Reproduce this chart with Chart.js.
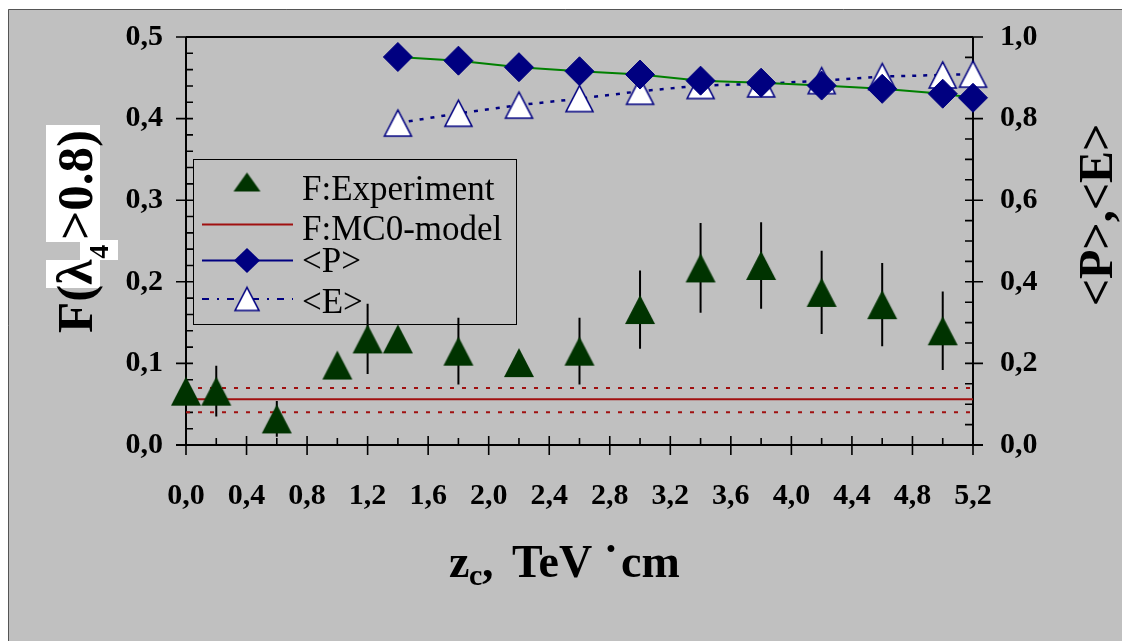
<!DOCTYPE html>
<html>
<head>
<meta charset="utf-8">
<script src="https://cdn.jsdelivr.net/npm/chart.js@4.4.1/dist/chart.umd.min.js"></script>
<style>
  html, body { margin: 0; padding: 0; background: #ffffff; }
  canvas { display: block; }
</style>
</head>
<body>
<canvas id="c" width="1122" height="641"></canvas>
<script>
// Measured fraction F(λ4>0.8) versus z_c
const expZ   = [0.0, 0.2, 0.6, 1.0, 1.2, 1.4, 1.8, 2.2, 2.6, 3.0, 3.4, 3.8, 4.2, 4.6, 5.0];
const expF   = [0.066, 0.066, 0.032, 0.098, 0.130, 0.130, 0.115, 0.101, 0.115, 0.166, 0.217, 0.220, 0.187, 0.172, 0.140];
const expErr = [null, 0.031, 0.022, null, 0.043, null, 0.041, null, 0.041, 0.048, 0.055, 0.053, 0.051, 0.051, 0.048];

// MC0 model level with its band
const modelF    = 0.056;
const modelLow  = 0.040;
const modelHigh = 0.070;

// Mean values <P> and <E> (right axis)
const meanZ = [1.4, 1.8, 2.2, 2.6, 3.0, 3.4, 3.8, 4.2, 4.6, 5.0, 5.2];
const meanP = [0.951, 0.942, 0.926, 0.916, 0.908, 0.893, 0.888, 0.881, 0.873, 0.861, 0.851];
const meanE = [0.789, 0.813, 0.833, 0.849, 0.867, 0.881, 0.885, 0.893, 0.903, 0.907, 0.909];

// Axis ticks
const xTickValues  = [0, 0.4, 0.8, 1.2, 1.6, 2.0, 2.4, 2.8, 3.2, 3.6, 4.0, 4.4, 4.8, 5.2];
const xTickLabels  = ['0,0','0,4','0,8','1,2','1,6','2,0','2,4','2,8','3,2','3,6','4,0','4,4','4,8','5,2'];
const yTickValues  = [0, 0.1, 0.2, 0.3, 0.4, 0.5];
const yTickLabels  = ['0,0','0,1','0,2','0,3','0,4','0,5'];
const y2TickValues = [0, 0.2, 0.4, 0.6, 0.8, 1.0];
const y2TickLabels = ['0,0','0,2','0,4','0,6','0,8','1,0'];

const SERIF = '"Liberation Serif", "Times New Roman", serif';
const GREEN_DARK = '#003300';
const NAVY = '#000080';
const MODEL_RED = '#a01010';

// Triangle marker centred in its own bounding box
function triangleMarker(w, h, fill, stroke, lw) {
  const pad = Math.ceil(lw) + 1;
  const c = document.createElement('canvas');
  c.width = Math.round(w + pad * 2);
  c.height = Math.round(h + pad * 2);
  const g = c.getContext('2d');
  g.beginPath();
  g.moveTo(pad, pad + h);
  g.lineTo(pad + w / 2, pad);
  g.lineTo(pad + w, pad + h);
  g.closePath();
  g.fillStyle = fill;
  g.fill();
  if (stroke) { g.lineWidth = lw; g.strokeStyle = stroke; g.lineJoin = 'miter'; g.stroke(); }
  return c;
}

const expMarker = triangleMarker(30, 29, GREEN_DARK, null, 0);
const eMarker = triangleMarker(27, 26, '#ffffff', NAVY, 1.6);

function xy(xs, ys) { return xs.map((x, i) => ({ x: x, y: ys[i] })); }
function flat(v) { return [{ x: xTickValues[0], y: v }, { x: xTickValues[xTickValues.length - 1], y: v }]; }

// Scales keep a fixed footprint so the plot area sits where the frame expects it
function fixSize(prop, size) {
  return s => {
    s[prop] = size;
    s.paddingTop = 0; s.paddingBottom = 0; s.paddingLeft = 0; s.paddingRight = 0;
  };
}

// Frame, axes, ticks and error bars
const framePlugin = {
  id: 'frame',
  beforeDraw(chart) {
    const ctx = chart.ctx;
    ctx.save();
    ctx.fillStyle = '#ffffff';
    ctx.fillRect(0, 0, chart.width, chart.height);
    ctx.fillStyle = '#c0c0c0';
    ctx.fillRect(8, 9, chart.width - 8, chart.height - 9);
    ctx.strokeStyle = '#555555';
    ctx.lineWidth = 1;
    ctx.beginPath();
    ctx.moveTo(8.5, chart.height);
    ctx.lineTo(8.5, 9.5);
    ctx.lineTo(chart.width, 9.5);
    ctx.stroke();
    ctx.restore();
  },
  beforeDatasetsDraw(chart) {
    const ctx = chart.ctx;
    const a = chart.chartArea;
    const sx = chart.scales.x, sy = chart.scales.y, sy2 = chart.scales.y2;
    ctx.save();
    ctx.strokeStyle = '#000000';
    // plot frame: top border and the three axes
    ctx.lineWidth = 2;
    ctx.beginPath();
    ctx.moveTo(a.left, a.top); ctx.lineTo(a.right, a.top);
    ctx.moveTo(a.left, a.top); ctx.lineTo(a.left, a.bottom);
    ctx.moveTo(a.right, a.top); ctx.lineTo(a.right, a.bottom);
    ctx.moveTo(a.left - 10, a.bottom); ctx.lineTo(a.right + 10, a.bottom);
    ctx.stroke();
    ctx.lineWidth = 1.6;
    ctx.beginPath();
    // x ticks: majors cross the axis, minors inside
    for (let i = 0; i <= 26; i++) {
      const px = sx.getPixelForValue(i * 0.2);
      if (i % 2 === 0) { ctx.moveTo(px, a.bottom - 9); ctx.lineTo(px, a.bottom + 10); }
      else { ctx.moveTo(px, a.bottom - 7); ctx.lineTo(px, a.bottom); }
    }
    // left y ticks
    for (let i = 0; i <= 25; i++) {
      const py = sy.getPixelForValue(i * 0.02);
      if (i % 5 === 0) { ctx.moveTo(a.left - 10, py); ctx.lineTo(a.left + 7, py); }
      else { ctx.moveTo(a.left, py); ctx.lineTo(a.left + 7, py); }
    }
    // right y ticks
    for (let i = 0; i <= 20; i++) {
      const py = sy2.getPixelForValue(i * 0.05);
      if (i % 4 === 0) { ctx.moveTo(a.right - 8, py); ctx.lineTo(a.right + 10, py); }
      else { ctx.moveTo(a.right - 8, py); ctx.lineTo(a.right, py); }
    }
    ctx.stroke();
    // error bars of the measured fraction
    ctx.lineWidth = 2;
    ctx.beginPath();
    expZ.forEach((z, i) => {
      const e = expErr[i];
      if (e == null) return;
      const px = sx.getPixelForValue(z);
      ctx.moveTo(px, sy.getPixelForValue(expF[i] + e));
      ctx.lineTo(px, sy.getPixelForValue(expF[i] - e));
    });
    ctx.stroke();
    ctx.restore();
  },
  afterDraw(chart) {
    const ctx = chart.ctx;
    const ds = chart.data.datasets;
    ctx.save();

    // legend box
    ctx.strokeStyle = '#000000';
    ctx.lineWidth = 1;
    ctx.strokeRect(193.5, 159.5, 323, 165);
    const lx0 = 202, lx1 = 293, mx = 247, tx = 302;
    ctx.font = '35px ' + SERIF;
    ctx.fillStyle = '#000000';
    ctx.textBaseline = 'alphabetic';
    ctx.textAlign = 'left';

    // row 1: measured
    const t1 = triangleMarker(27, 19, GREEN_DARK, null, 0);
    ctx.drawImage(t1, mx - t1.width / 2, 182 - t1.height / 2);
    ctx.fillText(ds[0].label, tx, 200);

    // row 2: model
    ctx.strokeStyle = MODEL_RED; ctx.lineWidth = 2;
    ctx.beginPath(); ctx.moveTo(lx0, 224.5); ctx.lineTo(lx1, 224.5); ctx.stroke();
    ctx.fillText(ds[3].label, tx, 240);

    // row 3: <P>
    ctx.strokeStyle = NAVY; ctx.lineWidth = 2;
    ctx.beginPath(); ctx.moveTo(lx0, 260.5); ctx.lineTo(lx1, 260.5); ctx.stroke();
    ctx.fillStyle = NAVY;
    ctx.beginPath();
    ctx.moveTo(mx - 13, 260.5); ctx.lineTo(mx, 248); ctx.lineTo(mx + 13, 260.5); ctx.lineTo(mx, 273);
    ctx.closePath(); ctx.fill();
    ctx.fillStyle = '#000000';
    ctx.fillText(ds[1].label, tx, 272);

    // row 4: <E>
    ctx.strokeStyle = NAVY; ctx.lineWidth = 2;
    ctx.setLineDash([7, 8, 2, 8]);
    ctx.beginPath(); ctx.moveTo(lx0, 299); ctx.lineTo(lx1, 299); ctx.stroke();
    ctx.setLineDash([]);
    const t4 = triangleMarker(24, 23, '#ffffff', NAVY, 1.6);
    ctx.drawImage(t4, mx - t4.width / 2, 299 - t4.height / 2);
    ctx.fillStyle = '#000000';
    ctx.fillText(ds[2].label, tx, 313);

    // x-axis title: z_c,  TeV˙cm
    ctx.fillStyle = '#000000';
    ctx.font = 'bold 46px ' + SERIF;
    ctx.fillText('z', 449, 577);
    ctx.font = 'bold 30px ' + SERIF;
    ctx.fillText('c', 469, 585);
    ctx.font = 'bold 46px ' + SERIF;
    ctx.fillText(',', 482, 577);
    ctx.fillText('TeV', 512, 577);
    ctx.textAlign = 'center';
    ctx.fillText('˙', 611, 577);
    ctx.textAlign = 'left';
    ctx.fillText('cm', 621, 577);

    // left title: F(λ4>0.8), read bottom to top, partly on white patches
    ctx.fillStyle = '#ffffff';
    ctx.fillRect(46, 125, 54, 117);
    ctx.fillRect(80, 240, 38, 20);
    ctx.fillRect(46, 260, 54, 28);
    ctx.save();
    ctx.translate(92, 333);
    ctx.rotate(-Math.PI / 2);
    ctx.fillStyle = '#000000';
    ctx.font = 'bold 51px ' + SERIF;
    let u = 0;
    ctx.fillText('F(', u, 0); u += ctx.measureText('F(').width;
    ctx.fillText('λ', u, 0); u += ctx.measureText('λ').width + 1;
    ctx.font = 'bold 28px ' + SERIF;
    ctx.fillText('4', u, 16); u += ctx.measureText('4').width + 5;
    ctx.font = 'bold 51px ' + SERIF;
    ctx.fillText('>0.8)', u, 0);
    ctx.restore();

    // right title: <P>,<E>
    ctx.save();
    ctx.translate(1112, 215);
    ctx.rotate(-Math.PI / 2);
    ctx.fillStyle = '#000000';
    ctx.font = 'bold 48px ' + SERIF;
    ctx.textAlign = 'center';
    ctx.fillText('<P>,<E>', 0, 0);
    ctx.restore();

    ctx.restore();
  }
};

const tickFont = { family: SERIF, size: 30, weight: 'bold' };

new Chart(document.getElementById('c'), {
  type: 'scatter',
  data: {
    datasets: [
      {
        label: 'F:Experiment',
        data: xy(expZ, expF),
        yAxisID: 'y',
        showLine: false,
        pointStyle: expMarker,
        pointRadius: 15,
        clip: false
      },
      {
        label: '<P>',
        data: xy(meanZ, meanP),
        yAxisID: 'y2',
        showLine: true,
        borderColor: '#008000',
        borderWidth: 2,
        pointStyle: 'rectRot',
        pointRadius: 14.5,
        pointBackgroundColor: NAVY,
        pointBorderColor: NAVY,
        pointBorderWidth: 1,
        clip: false
      },
      {
        label: '<E>',
        data: xy(meanZ, meanE),
        yAxisID: 'y2',
        showLine: true,
        borderColor: NAVY,
        borderWidth: 2.5,
        borderDash: [4, 7],
        pointStyle: eMarker,
        pointRadius: 15,
        clip: false
      },
      {
        label: 'F:MC0-model',
        data: flat(modelF),
        yAxisID: 'y',
        showLine: true,
        borderColor: MODEL_RED,
        borderWidth: 2,
        pointRadius: 0
      },
      {
        label: 'MC0 upper',
        data: flat(modelHigh),
        yAxisID: 'y',
        showLine: true,
        borderColor: MODEL_RED,
        borderWidth: 2,
        borderDash: [4, 8],
        pointRadius: 0
      },
      {
        label: 'MC0 lower',
        data: flat(modelLow),
        yAxisID: 'y',
        showLine: true,
        borderColor: MODEL_RED,
        borderWidth: 2,
        borderDash: [4, 8],
        pointRadius: 0
      }
    ]
  },
  options: {
    responsive: false,
    devicePixelRatio: 1,
    animation: false,
    events: [],
    layout: { padding: { top: 37, left: 0, right: 0, bottom: 0 } },
    plugins: { legend: { display: false }, tooltip: { enabled: false } },
    scales: {
      x: {
        type: 'linear',
        position: 'bottom',
        min: xTickValues[0],
        max: xTickValues[xTickValues.length - 1],
        afterBuildTicks: s => { s.ticks = xTickValues.map(v => ({ value: v })); },
        afterFit: fixSize('height', 196),
        grid: { display: false, drawTicks: false },
        border: { display: false },
        ticks: {
          autoSkip: false, maxRotation: 0, minRotation: 0,
          padding: 33, color: '#000000', font: tickFont,
          callback: (v, i) => xTickLabels[i]
        }
      },
      y: {
        type: 'linear',
        position: 'left',
        min: yTickValues[0],
        max: yTickValues[yTickValues.length - 1],
        afterBuildTicks: s => { s.ticks = yTickValues.map(v => ({ value: v })); },
        afterFit: fixSize('width', 186),
        grid: { display: false, drawTicks: false },
        border: { display: false },
        ticks: {
          padding: 23, color: '#000000', font: tickFont,
          callback: (v, i) => yTickLabels[i]
        }
      },
      y2: {
        type: 'linear',
        position: 'right',
        min: y2TickValues[0],
        max: y2TickValues[y2TickValues.length - 1],
        afterBuildTicks: s => { s.ticks = y2TickValues.map(v => ({ value: v })); },
        afterFit: fixSize('width', 149),
        grid: { display: false, drawTicks: false },
        border: { display: false },
        ticks: {
          padding: 27, color: '#000000', font: tickFont,
          callback: (v, i) => y2TickLabels[i]
        }
      }
    }
  },
  plugins: [framePlugin]
});
</script>
</body>
</html>
